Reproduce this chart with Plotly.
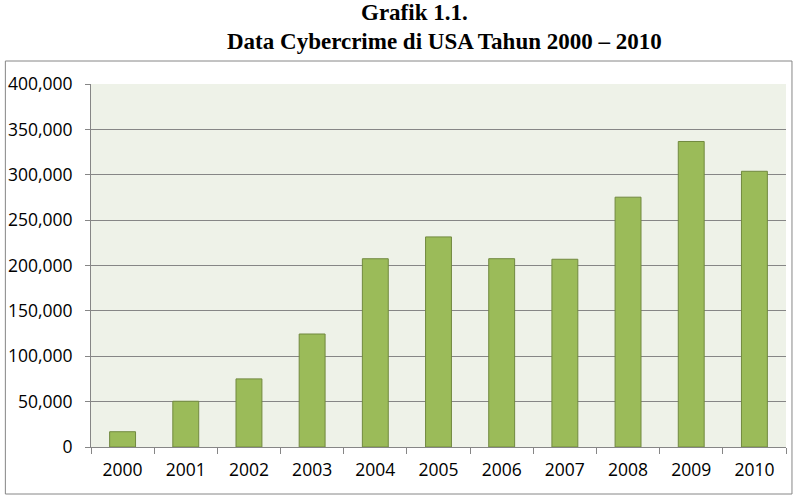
import plotly.graph_objects as go

years = ["2000", "2001", "2002", "2003", "2004", "2005", "2006", "2007", "2008", "2009", "2010"]
cases = [16838, 50412, 75064, 124509, 207449, 231493, 207492, 206884, 275284, 336655, 303809]
ytick_vals = [0, 50000, 100000, 150000, 200000, 250000, 300000, 350000, 400000]
ytick_text = ["0", "50,000", "100,000", "150,000", "200,000", "250,000", "300,000", "350,000", "400,000"]

fig = go.Figure()
fig.add_trace(go.Bar(
    x=years, y=cases,
    marker=dict(color="#9BBB59", line=dict(color="#71893F", width=1)),
    width=0.41,
))

L, R, T, B = 88, 8, 84, 49
W, H = 794, 496
pw, ph = W - L - R, H - T - B

def px_x(x):
    return (x - L) / pw

def px_y(y):
    return (H - B - y) / ph

tick_font = dict(family="Open Sans", size=17.5, color="#000")

fig.update_layout(
    width=W, height=H,
    margin=dict(l=L, r=R, t=T, b=B),
    paper_bgcolor="white",
    plot_bgcolor="#EEF2E8",
    showlegend=False,
    font=dict(family="Open Sans", size=17, color="#000000"),
    xaxis=dict(
        showgrid=False, showline=True, linecolor="#868686", linewidth=1,
        ticks="outside", ticklen=6, tickcolor="#868686", tickson="boundaries",
        ticklabelstandoff=7,
        tickfont=tick_font,
    ),
    yaxis=dict(
        range=[0, 400000], tickvals=ytick_vals, ticktext=ytick_text,
        showgrid=True, gridcolor="#868686", gridwidth=1,
        showline=True, linecolor="#868686", linewidth=1,
        ticks="outside", ticklen=5, tickcolor="#868686",
        ticklabelstandoff=9,
        zeroline=False,
        tickfont=tick_font,
    ),
    shapes=[dict(
        type="rect", xref="paper", yref="paper",
        x0=px_x(2), x1=px_x(792), y0=px_y(494), y1=px_y(61),
        line=dict(color="#868686", width=1), fillcolor="rgba(0,0,0,0)", layer="below",
    )],
    annotations=[
        dict(text="<b>Grafik 1.1.</b>", xref="paper", yref="paper",
             x=px_x(413), y=px_y(12), showarrow=False, xanchor="center", yanchor="middle",
             font=dict(family="Liberation Serif", size=23, color="#000")),
        dict(text="<b>Data Cybercrime di USA Tahun 2000 – 2010</b>", xref="paper", yref="paper",
             x=px_x(443), y=px_y(42), showarrow=False, xanchor="center", yanchor="middle",
             font=dict(family="Liberation Serif", size=23, color="#000")),
    ],
)

fig.write_html("out.html")
